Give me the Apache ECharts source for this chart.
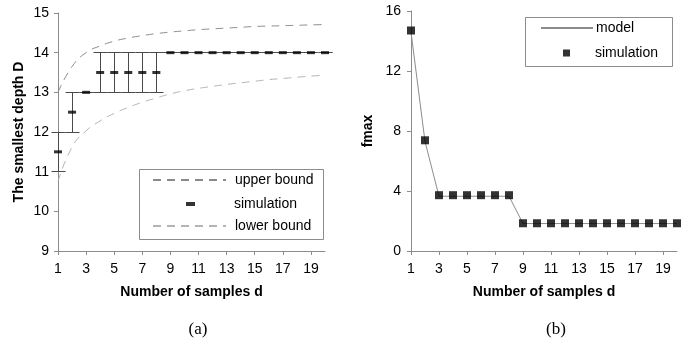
<!DOCTYPE html>
<html>
<head>
<meta charset="utf-8">
<script src="https://cdn.jsdelivr.net/npm/echarts@6/dist/echarts.min.js"></script>
<style>
  html, body { margin: 0; padding: 0; background: #fff; }
  #chart { width: 692px; height: 347px; }
</style>
</head>
<body>
<div id="chart"></div>
<script>
// Number of samples d (shared by both panels)
const samples = ['1','2','3','4','5','6','7','8','9','10','11','12','13','14','15','16','17','18','19','20'];
const sampleTicks = ['1','3','5','7','9','11','13','15','17','19'];

// Panel (a): smallest depth D
const upperBound = [13.0, 13.65, 14.0, 14.17, 14.29, 14.37, 14.43, 14.48, 14.52, 14.55,
                    14.58, 14.6, 14.62, 14.64, 14.66, 14.67, 14.68, 14.69, 14.7, 14.71];
const lowerBound = [10.75, 11.62, 12.03, 12.28, 12.47, 12.62, 12.75, 12.86, 12.96, 13.04,
                    13.1, 13.15, 13.2, 13.24, 13.28, 13.32, 13.35, 13.38, 13.41, 13.43];
const depthMean = [11.5, 12.5, 13, 13.5, 13.5, 13.5, 13.5, 13.5, 14, 14,
                   14, 14, 14, 14, 14, 14, 14, 14, 14, 14];
const depthMin  = [11, 12, 13, 13, 13, 13, 13, 13, 14, 14,
                   14, 14, 14, 14, 14, 14, 14, 14, 14, 14];
const depthMax  = [12, 13, 13, 14, 14, 14, 14, 14, 14, 14,
                   14, 14, 14, 14, 14, 14, 14, 14, 14, 14];

// Panel (b): fmax
const fmaxModel = [14.6, 7.3, 3.65, 3.65, 3.65, 3.65, 3.65, 3.65, 1.83, 1.83,
                   1.83, 1.83, 1.83, 1.83, 1.83, 1.83, 1.83, 1.83, 1.83, 1.83];
const fmaxSim   = [14.7, 7.38, 3.72, 3.72, 3.72, 3.72, 3.72, 3.72, 1.85, 1.85,
                   1.85, 1.85, 1.85, 1.85, 1.85, 1.85, 1.85, 1.85, 1.85, 1.85];

const SANS = '"Liberation Sans", Arial, Helvetica, sans-serif';
const SERIF = '"Liberation Serif", "Times New Roman", serif';
const AXIS_GRAY = '#8c8c8c';

const chart = echarts.init(document.getElementById('chart'), null, { renderer: 'canvas' });

function xAxisFor(gridIndex) {
  const showTick = (idx, val) => sampleTicks.indexOf(val) >= 0;
  return {
    type: 'category', gridIndex, data: samples, boundaryGap: false,
    name: 'Number of samples d', nameLocation: 'middle', nameGap: 34,
    nameTextStyle: { fontFamily: SANS, fontSize: 14, fontWeight: 'bold', color: '#000' },
    axisLine: { lineStyle: { color: AXIS_GRAY, width: 1 } },
    axisTick: { show: true, interval: showTick, length: 4, lineStyle: { color: AXIS_GRAY } },
    axisLabel: { interval: showTick, margin: 11, fontFamily: SANS, fontSize: 14, color: '#000' },
    splitLine: { show: false }
  };
}

function crisp(v) { return Math.round(v - 0.5) + 0.5; }

// Range bars (vertical whisker with caps) for the simulated depth
function rangeBar(params, api) {
  const i = api.value(0);
  const lo = api.coord([i, api.value(1)]);
  const hi = api.coord([i, api.value(2)]);
  const x = crisp(lo[0]);
  const yl = crisp(lo[1]);
  const yh = crisp(hi[1]);
  const w = 7;
  const st = { stroke: '#4a4a4a', lineWidth: 1 };
  return {
    type: 'group',
    children: [
      { type: 'line', shape: { x1: x, y1: yl, x2: x, y2: yh }, style: st },
      { type: 'line', shape: { x1: x - w, y1: yl, x2: x + w, y2: yl }, style: st },
      { type: 'line', shape: { x1: x - w, y1: yh, x2: x + w, y2: yh }, style: st }
    ]
  };
}

// Legend icon shapes: a fixed viewbox with a small filled mark in it
const dashIcon = 'path://M0,0 M9,16 M0,6 L9,6 L9,10 L0,10 Z';
const squareIcon = 'path://M0,0 M7,16 M0,4.5 L7,4.5 L7,11.5 L0,11.5 Z';

const legendText = { fontFamily: SANS, fontSize: 14, color: '#000' };
const noMarker = { opacity: 0 };

const option = {
  backgroundColor: '#fff',
  animation: false,
  grid: [
    { left: 58, top: 13, width: 267, height: 238 },
    { left: 411, top: 11, width: 266, height: 240 }
  ],
  xAxis: [xAxisFor(0), xAxisFor(1)],
  yAxis: [
    {
      type: 'value', gridIndex: 0, min: 9, max: 15, interval: 1,
      name: 'The smallest depth D', nameLocation: 'middle', nameGap: 32,
      nameTextStyle: { fontFamily: SANS, fontSize: 14, fontWeight: 'bold', color: '#000' },
      axisLine: { show: true, lineStyle: { color: AXIS_GRAY } },
      axisTick: { show: true, length: 4, lineStyle: { color: AXIS_GRAY } },
      axisLabel: { margin: 9, fontFamily: SANS, fontSize: 14, color: '#000' },
      splitLine: { show: false }
    },
    {
      type: 'value', gridIndex: 1, min: 0, max: 16, interval: 4,
      name: 'fmax', nameLocation: 'middle', nameGap: 36,
      nameTextStyle: { fontFamily: SANS, fontSize: 14, fontWeight: 'bold', color: '#000' },
      axisLine: { show: true, lineStyle: { color: AXIS_GRAY } },
      axisTick: { show: true, length: 4, lineStyle: { color: AXIS_GRAY } },
      axisLabel: { margin: 10, fontFamily: SANS, fontSize: 14, color: '#000' },
      splitLine: { show: false }
    }
  ],
  legend: [
    {
      data: [{ name: 'upper bound', itemStyle: noMarker }], left: 152, top: 173, padding: 0,
      itemWidth: 73, itemHeight: 16,
      textStyle: Object.assign({ padding: [0, 0, 0, 4] }, legendText), selectedMode: false
    },
    {
      data: [{ name: 'simulation', icon: dashIcon }], left: 186, top: 196, padding: 0,
      itemWidth: 9, itemHeight: 16, symbolKeepAspect: true,
      textStyle: Object.assign({ padding: [0, 0, 0, 34] }, legendText), selectedMode: false
    },
    {
      data: [{ name: 'lower bound', itemStyle: noMarker }], left: 152, top: 219, padding: 0,
      itemWidth: 73, itemHeight: 16,
      textStyle: Object.assign({ padding: [0, 0, 0, 4] }, legendText), selectedMode: false
    },
    {
      data: [{ name: 'model', itemStyle: noMarker }], left: 540, top: 21, padding: 0,
      itemWidth: 52, itemHeight: 16,
      textStyle: Object.assign({ padding: [0, 0, 0, -2] }, legendText), selectedMode: false
    },
    {
      data: [{ name: 'simulation ', icon: squareIcon }], left: 563, top: 45, padding: 0,
      itemWidth: 7, itemHeight: 16, symbolKeepAspect: true,
      textStyle: Object.assign({ padding: [0, 0, 0, 20] }, legendText), selectedMode: false
    }
  ],
  graphic: [
    { type: 'rect', shape: { x: 139.5, y: 169.5, width: 184, height: 70 },
      style: { fill: 'none', stroke: '#8c8c8c', lineWidth: 1 }, z: 1 },
    { type: 'rect', shape: { x: 525.5, y: 17.5, width: 147, height: 49 },
      style: { fill: 'none', stroke: '#8c8c8c', lineWidth: 1 }, z: 1 },
    { type: 'text', x: 198, y: 330, style: { text: '(a)', font: '17px ' + SERIF, fill: '#000',
      textAlign: 'center', textVerticalAlign: 'middle' } },
    { type: 'text', x: 556, y: 330, style: { text: '(b)', font: '17px ' + SERIF, fill: '#000',
      textAlign: 'center', textVerticalAlign: 'middle' } }
  ],
  series: [
    {
      name: 'upper bound', type: 'line', xAxisIndex: 0, yAxisIndex: 0, data: upperBound,
      symbol: 'none', smooth: true, silent: true,
      lineStyle: { color: '#8a8a8a', width: 1, type: [8, 6] },
      itemStyle: { color: '#8a8a8a' }
    },
    {
      name: 'lower bound', type: 'line', xAxisIndex: 0, yAxisIndex: 0, data: lowerBound,
      symbol: 'none', smooth: true, silent: true,
      lineStyle: { color: '#b4b4b4', width: 1, type: [8, 6] },
      itemStyle: { color: '#b4b4b4' }
    },
    {
      name: 'range', type: 'custom', xAxisIndex: 0, yAxisIndex: 0, silent: true,
      renderItem: rangeBar,
      encode: { x: 0, y: [1, 2] },
      data: samples.map((s, i) => [i, depthMin[i], depthMax[i]]),
      z: 3
    },
    {
      name: 'simulation', type: 'scatter', xAxisIndex: 0, yAxisIndex: 0, data: depthMean,
      symbol: 'rect', symbolSize: [8, 3], silent: true,
      itemStyle: { color: '#000' }, z: 4
    },
    {
      name: 'model', type: 'line', xAxisIndex: 1, yAxisIndex: 1, data: fmaxModel,
      symbol: 'none', silent: true,
      lineStyle: { color: '#8c8c8c', width: 1 },
      itemStyle: { color: '#8c8c8c' }
    },
    {
      name: 'simulation ', type: 'scatter', xAxisIndex: 1, yAxisIndex: 1, data: fmaxSim,
      symbol: 'rect', symbolSize: 8, silent: true,
      itemStyle: { color: '#000' }, z: 4
    }
  ]
};

chart.setOption(option);
</script>
</body>
</html>
